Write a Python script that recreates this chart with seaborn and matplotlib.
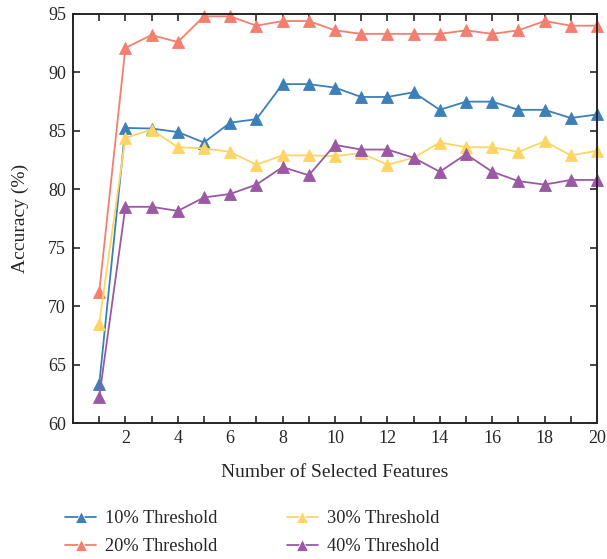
import matplotlib
matplotlib.use("Agg")
import matplotlib.pyplot as plt
import seaborn as sns
import pandas as pd
import numpy as np
from matplotlib.ticker import MultipleLocator

features = list(range(1, 21))
thr10 = [63.3, 85.25, 85.2, 84.9, 84.0, 85.7, 86.0, 89.0, 89.0, 88.7, 87.9, 87.9, 88.3, 86.8, 87.5, 87.5, 86.8, 86.8, 86.1, 86.4]
thr20 = [71.2, 92.1, 93.2, 92.6, 94.8, 94.8, 94.0, 94.4, 94.4, 93.6, 93.3, 93.3, 93.3, 93.3, 93.6, 93.3, 93.6, 94.4, 94.0, 94.0]
thr30 = [68.5, 84.4, 85.1, 83.6, 83.5, 83.2, 82.1, 82.9, 82.9, 82.85, 83.1, 82.1, 82.7, 84.0, 83.6, 83.6, 83.2, 84.1, 82.9, 83.3]
thr40 = [62.2, 78.5, 78.5, 78.15, 79.3, 79.6, 80.4, 81.9, 81.2, 83.8, 83.4, 83.4, 82.7, 81.5, 83.0, 81.5, 80.7, 80.4, 80.8, 80.8]
series_names = ["10% Threshold", "20% Threshold", "30% Threshold", "40% Threshold"]
colors = ["#3d7fb9", "#f47f6f", "#fed564", "#9a58a5"]

rows = []
for name, vals in zip(series_names, [thr10, thr20, thr30, thr40]):
    for f, v in zip(features, vals):
        rows.append({"Features": f, "Accuracy": v, "Series": name})
df = pd.DataFrame(rows)

sns.set_style("ticks")
plt.rcParams['font.family'] = ['Liberation Serif', 'DejaVu Serif']

fig = plt.figure(figsize=(6.07, 5.59), dpi=100)
ax = fig.add_axes([73/607, 1-423/559, 524/607, 409/559])

sns.lineplot(data=df, x="Features", y="Accuracy", hue="Series", hue_order=series_names,
             palette=colors, marker="^", markersize=9, linewidth=1.3,
             markeredgewidth=0.6, ax=ax, legend=True)
for line, c in zip(ax.lines, colors):
    line.set_markeredgecolor(c)
    line.set_clip_on(False)

ax.set_xlim(0, 20)
ax.set_ylim(60, 95)
ax.xaxis.set_minor_locator(MultipleLocator(1))
ax.yaxis.set_major_locator(MultipleLocator(5))
ax.set_xticks([2, 4, 6, 8, 10, 12, 14, 16, 18, 20])
ax.tick_params(axis="both", which="both", direction="in", top=True, right=True, labelsize=13)
ax.tick_params(which="major", length=5, width=1.2, pad=5)
ax.tick_params(which="minor", length=5, width=1.2)
for s in ax.spines.values():
    s.set_linewidth(1.4)
ax.set_xlabel("Number of Selected Features", fontsize=14, labelpad=12)
ax.set_ylabel("Accuracy (%)", fontsize=14, labelpad=14)

handles, labels = ax.get_legend_handles_labels()
ax.get_legend().remove()
fig.legend(handles, labels, ncol=2, loc="upper left", bbox_to_anchor=(0.08, 0.117),
           frameon=False, fontsize=13.2, columnspacing=3.75, handlelength=1.7,
           labelspacing=0.6, handletextpad=0.5, borderpad=0.4)

fig.savefig("out.png", dpi=100)
